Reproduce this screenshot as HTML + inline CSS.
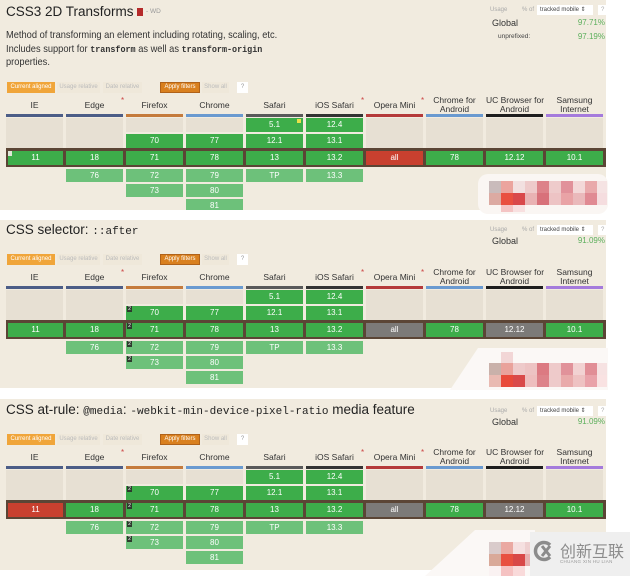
<!DOCTYPE html>
<html><head><meta charset="utf-8">
<style>
*{margin:0;padding:0;box-sizing:border-box}
body{width:630px;height:576px;background:#fff;position:relative;overflow:hidden;font-family:"Liberation Sans","Noto Sans CJK SC",sans-serif;color:#333}
.a{position:absolute}
.p{position:absolute;left:0;width:606px;background:#f1ebdf;overflow:hidden}
.t{position:absolute;left:6px;font-size:13.5px;color:#222;white-space:nowrap;line-height:16px}
.m{font-family:"Liberation Mono",monospace;font-size:11px}
.d{position:absolute;left:6px;font-size:10.5px;line-height:12px;color:#333;white-space:nowrap;transform:scaleX(.885);transform-origin:0 50%}
.d .m{font-size:9.5px;font-weight:bold}
.h{position:absolute;width:57px;text-align:center;font-size:8.5px;color:#333;line-height:12px;white-space:nowrap}
.h2{line-height:9px}
.s{position:absolute;font-size:8px;color:#c44;line-height:8px}
.u{position:absolute;width:57px;height:3px}
.e{position:absolute;width:57px;background:#e7e0d3}
.c{position:absolute;width:57px;height:14px;line-height:14px;text-align:center;font-size:8px;color:#fff}
.r4{height:13px;line-height:13px}
.g{background:#3dad4a}
.l{background:#6dc17a}
.rd{background:#c9402f}
.x{background:#7c7a78}
.b{position:absolute;left:6px;width:600px;height:19px;background:#5b4535}
.btn{position:absolute;height:11px;line-height:11px;font-size:6px;text-align:center;color:#bbb;white-space:nowrap;background:#efe8da}
.o1{background:#f0a53a;color:#fff}
.o2{background:#d9801f;color:#fff;border:1px solid #b0621a;line-height:9px}
.q{background:#fff;color:#999}
.us{position:absolute;font-size:6px;color:#aaa;white-space:nowrap;line-height:10px}
.sel{position:absolute;background:#fff;font-size:6px;color:#444;line-height:10px;height:10px;padding-left:3px;white-space:nowrap}
.gl{position:absolute;left:492px;font-size:9px;color:#333;line-height:12px}
.pc{position:absolute;right:1px;font-size:8px;color:#5caf5c;line-height:12px}
.f{position:absolute;left:127px;width:5px;height:6px;background:#2d3b2d;color:#fff;font-size:5px;line-height:6px;text-align:center}
.z{position:absolute;width:12px;height:12px}
</style></head><body>

<!-- PANEL 1 -->
<div class="p" style="top:0;height:210px">
  <div class="t" style="top:4px">CSS3 2D Transforms</div>
  <div class="a" style="left:137px;top:8px;width:6px;height:8px;background:#b52a2a"></div>
  <div class="a" style="left:146px;top:8px;font-size:6.5px;color:#999;line-height:8px">- WD</div>
  <div class="d" style="top:29px">Method of transforming an element including rotating, scaling, etc.</div>
  <div class="d" style="top:43px">Includes support for <span class="m">transform</span> as well as <span class="m">transform-origin</span></div>
  <div class="d" style="top:56px">properties.</div>

  <div class="us" style="left:490px;top:5px">Usage</div>
  <div class="us" style="left:522px;top:5px">% of</div>
  <div class="sel" style="left:537px;top:5px;width:56px">tracked mobile &#8661;</div>
  <div class="sel" style="left:598px;top:5px;width:8px;color:#aaa">?</div>
  <div class="gl" style="top:17px">Global</div>
  <div class="pc" style="top:17px">97.71%</div>
  <div class="a" style="left:498px;top:32px;font-size:6.5px;color:#444;line-height:10px">unprefixed:</div>
  <div class="pc" style="top:31px">97.19%</div>

  <div class="btn o1" style="left:7px;top:82px;width:48px">Current aligned</div>
  <div class="btn" style="left:57px;top:82px;width:43px">Usage relative</div>
  <div class="btn" style="left:103px;top:82px;width:39px">Date relative</div>
  <div class="btn o2" style="left:160px;top:82px;width:40px">Apply filters</div>
  <div class="btn" style="left:202px;top:82px;width:27px">Show all</div>
  <div class="btn q" style="left:237px;top:82px;width:11px">?</div>

  <div class="h" style="left:6px;top:99px">IE</div>
  <div class="h" style="left:66px;top:99px">Edge</div>
  <div class="h" style="left:126px;top:99px">Firefox</div>
  <div class="h" style="left:186px;top:99px">Chrome</div>
  <div class="h" style="left:246px;top:99px">Safari</div>
  <div class="h" style="left:306px;top:99px">iOS Safari</div>
  <div class="h" style="left:366px;top:99px">Opera Mini</div>
  <div class="h h2" style="left:426px;top:96px">Chrome for<br>Android</div>
  <div class="h h2" style="left:486px;top:96px">UC Browser for<br>Android</div>
  <div class="h h2" style="left:546px;top:96px">Samsung<br>Internet</div>
  <div class="s" style="left:121px;top:97px">*</div>
  <div class="s" style="left:361px;top:97px">*</div>
  <div class="s" style="left:421px;top:97px">*</div>

  <div class="u" style="left:6px;top:114px;background:#4c5d87"></div>
  <div class="u" style="left:66px;top:114px;background:#4c5d87"></div>
  <div class="u" style="left:126px;top:114px;background:#c57b3c"></div>
  <div class="u" style="left:186px;top:114px;background:#6a9ad0"></div>
  <div class="u" style="left:246px;top:114px;background:#59595a"></div>
  <div class="u" style="left:306px;top:114px;background:#333"></div>
  <div class="u" style="left:366px;top:114px;background:#b53a3a"></div>
  <div class="u" style="left:426px;top:114px;background:#6a9ad0"></div>
  <div class="u" style="left:486px;top:114px;background:#1e1e1e"></div>
  <div class="u" style="left:546px;top:114px;background:#a57bdc"></div>

  <div class="e" style="left:6px;top:118px;height:30px"></div>
  <div class="e" style="left:66px;top:118px;height:30px"></div>
  <div class="e" style="left:126px;top:118px;height:14px"></div>
  <div class="e" style="left:186px;top:118px;height:14px"></div>
  <div class="e" style="left:366px;top:118px;height:30px"></div>
  <div class="e" style="left:426px;top:118px;height:30px"></div>
  <div class="e" style="left:486px;top:118px;height:30px"></div>
  <div class="e" style="left:546px;top:118px;height:30px"></div>

  <div class="c g" style="left:246px;top:118px">5.1</div>
  <div class="a" style="left:297px;top:119px;width:4px;height:4px;background:#e8e04a"></div>
  <div class="c g" style="left:306px;top:118px">12.4</div>
  <div class="c g" style="left:126px;top:134px">70</div>
  <div class="c g" style="left:186px;top:134px">77</div>
  <div class="c g" style="left:246px;top:134px">12.1</div>
  <div class="c g" style="left:306px;top:134px">13.1</div>

  <div class="b" style="top:148px"></div>
  <div class="c g" style="left:8px;top:151px;width:55px">11</div>
  <div class="a" style="left:8px;top:151px;width:4px;height:5px;background:#dfe8d8"></div>
  <div class="c g" style="left:66px;top:151px">18</div>
  <div class="c g" style="left:126px;top:151px">71</div>
  <div class="c g" style="left:186px;top:151px">78</div>
  <div class="c g" style="left:246px;top:151px">13</div>
  <div class="c g" style="left:306px;top:151px">13.2</div>
  <div class="c rd" style="left:366px;top:151px">all</div>
  <div class="c g" style="left:426px;top:151px">78</div>
  <div class="c g" style="left:486px;top:151px">12.12</div>
  <div class="c g" style="left:546px;top:151px">10.1</div>

  <div class="c l r4" style="left:66px;top:169px">76</div>
  <div class="c l r4" style="left:126px;top:169px">72</div>
  <div class="c l r4" style="left:186px;top:169px">79</div>
  <div class="c l r4" style="left:246px;top:169px">TP</div>
  <div class="c l r4" style="left:306px;top:169px">13.3</div>
  <div class="c l r4" style="left:126px;top:184px">73</div>
  <div class="c l r4" style="left:186px;top:184px">80</div>
  <div class="c l r4" style="left:186px;top:199px">81</div>
</div>

<!-- PANEL 2 -->
<div class="p" style="top:220px;height:168px">
  <div class="t" style="top:2px">CSS selector: <span class="m">::after</span></div>

  <div class="us" style="left:490px;top:5px">Usage</div>
  <div class="us" style="left:522px;top:5px">% of</div>
  <div class="sel" style="left:537px;top:5px;width:56px">tracked mobile &#8661;</div>
  <div class="sel" style="left:598px;top:5px;width:8px;color:#aaa">?</div>
  <div class="gl" style="top:15px">Global</div>
  <div class="pc" style="top:15px">91.09%</div>

  <div class="btn o1" style="left:7px;top:34px;width:48px">Current aligned</div>
  <div class="btn" style="left:57px;top:34px;width:43px">Usage relative</div>
  <div class="btn" style="left:103px;top:34px;width:39px">Date relative</div>
  <div class="btn o2" style="left:160px;top:34px;width:40px">Apply filters</div>
  <div class="btn" style="left:202px;top:34px;width:27px">Show all</div>
  <div class="btn q" style="left:237px;top:34px;width:11px">?</div>

  <div class="h" style="left:6px;top:51px">IE</div>
  <div class="h" style="left:66px;top:51px">Edge</div>
  <div class="h" style="left:126px;top:51px">Firefox</div>
  <div class="h" style="left:186px;top:51px">Chrome</div>
  <div class="h" style="left:246px;top:51px">Safari</div>
  <div class="h" style="left:306px;top:51px">iOS Safari</div>
  <div class="h" style="left:366px;top:51px">Opera Mini</div>
  <div class="h h2" style="left:426px;top:48px">Chrome for<br>Android</div>
  <div class="h h2" style="left:486px;top:48px">UC Browser for<br>Android</div>
  <div class="h h2" style="left:546px;top:48px">Samsung<br>Internet</div>
  <div class="s" style="left:121px;top:49px">*</div>
  <div class="s" style="left:361px;top:49px">*</div>
  <div class="s" style="left:421px;top:49px">*</div>

  <div class="u" style="left:6px;top:66px;background:#4c5d87"></div>
  <div class="u" style="left:66px;top:66px;background:#4c5d87"></div>
  <div class="u" style="left:126px;top:66px;background:#c57b3c"></div>
  <div class="u" style="left:186px;top:66px;background:#6a9ad0"></div>
  <div class="u" style="left:246px;top:66px;background:#59595a"></div>
  <div class="u" style="left:306px;top:66px;background:#333"></div>
  <div class="u" style="left:366px;top:66px;background:#b53a3a"></div>
  <div class="u" style="left:426px;top:66px;background:#6a9ad0"></div>
  <div class="u" style="left:486px;top:66px;background:#1e1e1e"></div>
  <div class="u" style="left:546px;top:66px;background:#a57bdc"></div>

  <div class="e" style="left:6px;top:70px;height:30px"></div>
  <div class="e" style="left:66px;top:70px;height:30px"></div>
  <div class="e" style="left:126px;top:70px;height:14px"></div>
  <div class="e" style="left:186px;top:70px;height:14px"></div>
  <div class="e" style="left:366px;top:70px;height:30px"></div>
  <div class="e" style="left:426px;top:70px;height:30px"></div>
  <div class="e" style="left:486px;top:70px;height:30px"></div>
  <div class="e" style="left:546px;top:70px;height:30px"></div>

  <div class="c g" style="left:246px;top:70px">5.1</div>
  <div class="c g" style="left:306px;top:70px">12.4</div>
  <div class="c g" style="left:126px;top:86px">70</div><div class="f" style="top:86px">2</div>
  <div class="c g" style="left:186px;top:86px">77</div>
  <div class="c g" style="left:246px;top:86px">12.1</div>
  <div class="c g" style="left:306px;top:86px">13.1</div>

  <div class="b" style="top:100px"></div>
  <div class="c g" style="left:8px;top:103px;width:55px">11</div>
  <div class="c g" style="left:66px;top:103px">18</div>
  <div class="c g" style="left:126px;top:103px">71</div><div class="f" style="top:103px">2</div>
  <div class="c g" style="left:186px;top:103px">78</div>
  <div class="c g" style="left:246px;top:103px">13</div>
  <div class="c g" style="left:306px;top:103px">13.2</div>
  <div class="c x" style="left:366px;top:103px">all</div>
  <div class="c g" style="left:426px;top:103px">78</div>
  <div class="c x" style="left:486px;top:103px">12.12</div>
  <div class="c g" style="left:546px;top:103px">10.1</div>

  <div class="c l r4" style="left:66px;top:121px">76</div>
  <div class="c l r4" style="left:126px;top:121px">72</div><div class="f" style="top:121px">2</div>
  <div class="c l r4" style="left:186px;top:121px">79</div>
  <div class="c l r4" style="left:246px;top:121px">TP</div>
  <div class="c l r4" style="left:306px;top:121px">13.3</div>
  <div class="c l r4" style="left:126px;top:136px">73</div><div class="f" style="top:136px">2</div>
  <div class="c l r4" style="left:186px;top:136px">80</div>
  <div class="c l r4" style="left:186px;top:151px">81</div>
</div>

<!-- PANEL 3 -->
<div class="p" style="top:399px;height:171px">
  <div class="t" style="top:3px">CSS at-rule: <span class="m">@media</span>: <span class="m">-webkit-min-device-pixel-ratio</span> media feature</div>

  <div class="us" style="left:490px;top:7px">Usage</div>
  <div class="us" style="left:522px;top:7px">% of</div>
  <div class="sel" style="left:537px;top:7px;width:56px">tracked mobile &#8661;</div>
  <div class="sel" style="left:598px;top:7px;width:8px;color:#aaa">?</div>
  <div class="gl" style="top:17px">Global</div>
  <div class="pc" style="top:17px">91.09%</div>

  <div class="btn o1" style="left:7px;top:35px;width:48px">Current aligned</div>
  <div class="btn" style="left:57px;top:35px;width:43px">Usage relative</div>
  <div class="btn" style="left:103px;top:35px;width:39px">Date relative</div>
  <div class="btn o2" style="left:160px;top:35px;width:40px">Apply filters</div>
  <div class="btn" style="left:202px;top:35px;width:27px">Show all</div>
  <div class="btn q" style="left:237px;top:35px;width:11px">?</div>

  <div class="h" style="left:6px;top:52px">IE</div>
  <div class="h" style="left:66px;top:52px">Edge</div>
  <div class="h" style="left:126px;top:52px">Firefox</div>
  <div class="h" style="left:186px;top:52px">Chrome</div>
  <div class="h" style="left:246px;top:52px">Safari</div>
  <div class="h" style="left:306px;top:52px">iOS Safari</div>
  <div class="h" style="left:366px;top:52px">Opera Mini</div>
  <div class="h h2" style="left:426px;top:49px">Chrome for<br>Android</div>
  <div class="h h2" style="left:486px;top:49px">UC Browser for<br>Android</div>
  <div class="h h2" style="left:546px;top:49px">Samsung<br>Internet</div>
  <div class="s" style="left:121px;top:50px">*</div>
  <div class="s" style="left:361px;top:50px">*</div>
  <div class="s" style="left:421px;top:50px">*</div>

  <div class="u" style="left:6px;top:67px;background:#4c5d87"></div>
  <div class="u" style="left:66px;top:67px;background:#4c5d87"></div>
  <div class="u" style="left:126px;top:67px;background:#c57b3c"></div>
  <div class="u" style="left:186px;top:67px;background:#6a9ad0"></div>
  <div class="u" style="left:246px;top:67px;background:#59595a"></div>
  <div class="u" style="left:306px;top:67px;background:#333"></div>
  <div class="u" style="left:366px;top:67px;background:#b53a3a"></div>
  <div class="u" style="left:426px;top:67px;background:#6a9ad0"></div>
  <div class="u" style="left:486px;top:67px;background:#1e1e1e"></div>
  <div class="u" style="left:546px;top:67px;background:#a57bdc"></div>

  <div class="e" style="left:6px;top:71px;height:30px"></div>
  <div class="e" style="left:66px;top:71px;height:30px"></div>
  <div class="e" style="left:126px;top:71px;height:14px"></div>
  <div class="e" style="left:186px;top:71px;height:14px"></div>
  <div class="e" style="left:366px;top:71px;height:30px"></div>
  <div class="e" style="left:426px;top:71px;height:30px"></div>
  <div class="e" style="left:486px;top:71px;height:30px"></div>
  <div class="e" style="left:546px;top:71px;height:30px"></div>

  <div class="c g" style="left:246px;top:71px">5.1</div>
  <div class="c g" style="left:306px;top:71px">12.4</div>
  <div class="c g" style="left:126px;top:87px">70</div><div class="f" style="top:87px">2</div>
  <div class="c g" style="left:186px;top:87px">77</div>
  <div class="c g" style="left:246px;top:87px">12.1</div>
  <div class="c g" style="left:306px;top:87px">13.1</div>

  <div class="b" style="top:101px"></div>
  <div class="c rd" style="left:8px;top:104px;width:55px">11</div>
  <div class="c g" style="left:66px;top:104px">18</div>
  <div class="c g" style="left:126px;top:104px">71</div><div class="f" style="top:104px">2</div>
  <div class="c g" style="left:186px;top:104px">78</div>
  <div class="c g" style="left:246px;top:104px">13</div>
  <div class="c g" style="left:306px;top:104px">13.2</div>
  <div class="c x" style="left:366px;top:104px">all</div>
  <div class="c g" style="left:426px;top:104px">78</div>
  <div class="c x" style="left:486px;top:104px">12.12</div>
  <div class="c g" style="left:546px;top:104px">10.1</div>

  <div class="c l r4" style="left:66px;top:122px">76</div>
  <div class="c l r4" style="left:126px;top:122px">72</div><div class="f" style="top:122px">2</div>
  <div class="c l r4" style="left:186px;top:122px">79</div>
  <div class="c l r4" style="left:246px;top:122px">TP</div>
  <div class="c l r4" style="left:306px;top:122px">13.3</div>
  <div class="c l r4" style="left:126px;top:137px">73</div><div class="f" style="top:137px">2</div>
  <div class="c l r4" style="left:186px;top:137px">80</div>
  <div class="c l r4" style="left:186px;top:152px">81</div>
</div>

<!-- watermark blobs -->
<div class="a" style="left:478px;top:174px;width:130px;height:40px;background:#faf6f3;border-radius:10px"></div>
<div class="a" style="left:450px;top:348px;width:158px;height:42px;background:#fbf8f6;clip-path:polygon(28px 0,100% 0,100% 100%,0 100%)"></div>
<div class="a" style="left:425px;top:530px;width:110px;height:46px;background:#fbf8f6;clip-path:polygon(50px 0,100% 0,100% 100%,0 100%)"></div>

<!-- mosaic panel 1 -->
<div class="z" style="left:489px;top:181px;background:#c9bbbb"></div>
<div class="z" style="left:501px;top:181px;background:#eba49e"></div>
<div class="z" style="left:513px;top:181px;background:#f2e0e0"></div>
<div class="z" style="left:525px;top:181px;background:#eecaca"></div>
<div class="z" style="left:537px;top:181px;background:#dd8289"></div>
<div class="z" style="left:549px;top:181px;background:#eecbcb"></div>
<div class="z" style="left:561px;top:181px;background:#e1919a"></div>
<div class="z" style="left:573px;top:181px;background:#f3d8d8"></div>
<div class="z" style="left:585px;top:181px;background:#e9a9ab"></div>
<div class="z" style="left:597px;top:181px;width:10px;background:#f5e3e3"></div>
<div class="z" style="left:489px;top:193px;background:#dcaaa2"></div>
<div class="z" style="left:501px;top:193px;background:#e94f40"></div>
<div class="z" style="left:513px;top:193px;background:#d9484b"></div>
<div class="z" style="left:525px;top:193px;background:#e9b2b3"></div>
<div class="z" style="left:537px;top:193px;background:#d8717a"></div>
<div class="z" style="left:549px;top:193px;background:#edc3c4"></div>
<div class="z" style="left:561px;top:193px;background:#e9a3a6"></div>
<div class="z" style="left:573px;top:193px;background:#eab9bb"></div>
<div class="z" style="left:585px;top:193px;background:#e08a93"></div>
<div class="z" style="left:597px;top:193px;width:10px;background:#f5dddf"></div>
<div class="z" style="left:501px;top:205px;height:7px;background:#f4c4c4"></div>
<div class="z" style="left:513px;top:205px;height:7px;background:#f8e0e0"></div>

<!-- mosaic panel 2 -->
<div class="z" style="left:501px;top:352px;height:11px;background:#f2d6d6"></div>
<div class="z" style="left:489px;top:363px;background:#c9b1aa"></div>
<div class="z" style="left:501px;top:363px;background:#e9a29b"></div>
<div class="z" style="left:513px;top:363px;background:#eecaca"></div>
<div class="z" style="left:525px;top:363px;background:#edc3c3"></div>
<div class="z" style="left:537px;top:363px;background:#dc7a82"></div>
<div class="z" style="left:549px;top:363px;background:#eecaca"></div>
<div class="z" style="left:561px;top:363px;background:#e1929a"></div>
<div class="z" style="left:573px;top:363px;background:#f2d2d2"></div>
<div class="z" style="left:585px;top:363px;background:#e18e96"></div>
<div class="z" style="left:597px;top:363px;width:10px;background:#f6e2e2"></div>
<div class="z" style="left:489px;top:375px;background:#e9bab2"></div>
<div class="z" style="left:501px;top:375px;background:#e84a3a"></div>
<div class="z" style="left:513px;top:375px;background:#d94a4a"></div>
<div class="z" style="left:525px;top:375px;background:#eebebe"></div>
<div class="z" style="left:537px;top:375px;background:#dd8289"></div>
<div class="z" style="left:549px;top:375px;background:#eecaca"></div>
<div class="z" style="left:561px;top:375px;background:#e9aaaa"></div>
<div class="z" style="left:573px;top:375px;background:#eec2c2"></div>
<div class="z" style="left:585px;top:375px;background:#e9a2a9"></div>
<div class="z" style="left:597px;top:375px;width:10px;background:#f9e2e2"></div>

<!-- mosaic panel 3 -->
<div class="z" style="left:489px;top:542px;background:#d9cbcb"></div>
<div class="z" style="left:501px;top:542px;background:#eaa9a2"></div>
<div class="z" style="left:513px;top:542px;background:#f5e0e0"></div>
<div class="z" style="left:525px;top:542px;background:#eed0d0"></div>
<div class="z" style="left:489px;top:554px;background:#d9a999"></div>
<div class="z" style="left:501px;top:554px;background:#e85040"></div>
<div class="z" style="left:513px;top:554px;background:#d84848"></div>
<div class="z" style="left:525px;top:554px;background:#e8b0b0"></div>
<div class="z" style="left:489px;top:566px;height:10px;background:#faf2f2"></div>
<div class="z" style="left:501px;top:566px;height:10px;background:#f5c2c2"></div>
<div class="z" style="left:513px;top:566px;height:10px;background:#f9dada"></div>

<!-- logo -->
<div class="a" style="left:530px;top:532px;width:100px;height:44px;background:#efefef"></div>
<svg class="a" style="left:533px;top:540px" width="22" height="22" viewBox="0 0 22 22">
  <path d="M17 5 A8.5 8.5 0 1 0 17 17" fill="none" stroke="#8c8c8c" stroke-width="3.5"/>
  <path d="M9 6 L17 16 M17 6 L9 16" stroke="#8c8c8c" stroke-width="3"/>
</svg>
<div class="a" style="left:560px;top:541px;font-size:16px;line-height:18px;color:#8c8c8c;font-family:'Noto Sans CJK SC','WenQuanYi Zen Hei',sans-serif;white-space:nowrap">创新互联</div>
<div class="a" style="left:560px;top:559px;font-size:4.5px;line-height:6px;color:#999;white-space:nowrap;letter-spacing:.3px">CHUANG XIN HU LIAN</div>

</body></html>
